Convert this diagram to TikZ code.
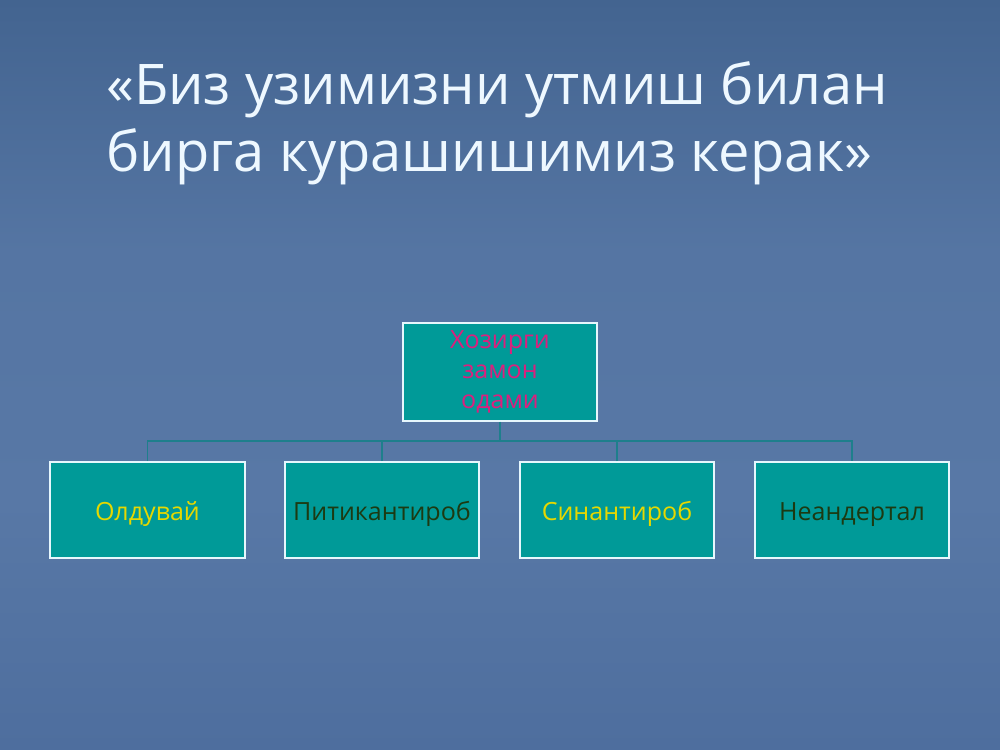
\documentclass[tikz,border=0pt]{standalone}
\usepackage{fontspec}
\setmainfont{Open Sans}
\definecolor{bgtop}{HTML}{436490}
\definecolor{bgmid}{HTML}{5878A6}
\definecolor{bgbot}{HTML}{4E6E9E}
\definecolor{boxfill}{HTML}{009A98}
\definecolor{linecol}{HTML}{1E7F8C}
\definecolor{magtext}{HTML}{DC1F7E}
\definecolor{yeltext}{HTML}{E6D800}
\definecolor{grntext}{HTML}{1C3A12}
\definecolor{titletext}{HTML}{EEF8FF}
\tikzset{
  box/.style={draw=white!90!cyan, line width=1.5pt, fill=boxfill, minimum width=146pt, minimum height=72pt, inner sep=0pt, font=\fontsize{18.8}{22.5}\selectfont, align=center},
  leaf/.style={box, text height=15.5pt, text depth=0pt},
  conn/.style={draw=linecol, line width=1pt}
}
\begin{document}
\begin{tikzpicture}[x=0.75pt,y=-0.75pt]
\useasboundingbox (0,0) rectangle (1000,750);
\shade[top color=bgtop, bottom color=bgmid, middle color=bgmid!85!bgtop] (0,0) rectangle (1000,500);
\shade[top color=bgmid, bottom color=bgbot] (0,500) rectangle (1000,750);
\node[anchor=north west, inner sep=0pt, text=titletext, align=left, font=\fontsize{42}{50.5}\selectfont] (title) at (106,61) {«Биз узимизни утмиш билан\\бирга курашишимиз керак»};
\node[box, minimum width=145pt, minimum height=73pt, text=magtext] (top) at (500,372) {Хозирги\\замон\\одами};
\node[leaf, text=yeltext] (b1) at (147.5,510) {Олдувай};
\node[leaf, text=grntext] (b2) at (382,510) {Питикантироб};
\node[leaf, text=yeltext] (b3) at (617,510) {Синантироб};
\node[leaf, text=grntext] (b4) at (852,510) {Неандертал};
\coordinate (j) at (500,441);
\draw[conn] (top.south) -- (j);
\draw[conn] (b1.north) -- (b1.north |- j) -- (b4.north |- j) -- (b4.north);
\draw[conn] (b2.north) -- (b2.north |- j);
\draw[conn] (b3.north) -- (b3.north |- j);
\end{tikzpicture}
\end{document}
